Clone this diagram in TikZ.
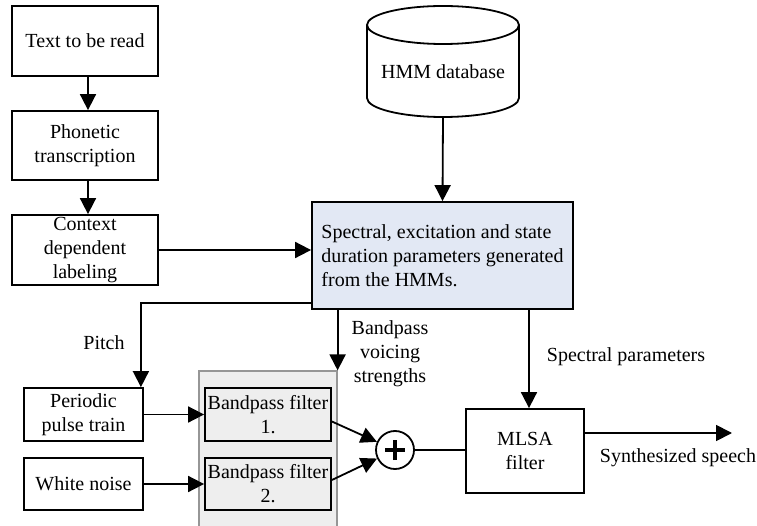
\documentclass[tikz,border=0pt]{standalone}
\usepackage{fontspec}
\setmainfont{Liberation Serif}
\usetikzlibrary{arrows.meta}
\definecolor{paramfill}{RGB}{226,232,244}
\definecolor{groupfill}{RGB}{238,238,238}
\definecolor{groupline}{RGB}{150,150,150}
\tikzset{
  blockbox/.style={draw, line width=1.8pt, align=center, inner sep=0pt,
    font=\fontsize{20pt}{24pt}\selectfont},
  lbl/.style={align=center, inner sep=0pt, font=\fontsize{20pt}{24pt}\selectfont},
  flow/.style={line width=1.8pt, -{Triangle[length=16pt,width=16pt]}},
  wire/.style={line width=1.8pt},
}
\begin{document}
\begin{tikzpicture}[x=1pt,y=-1pt]
\useasboundingbox (0,0) rectangle (757,526);
\clip (0,0) rectangle (757,526);

% grey group behind the two bandpass filters
\node[fill=groupfill, draw=groupline, line width=1.2pt, minimum width=138pt,
  minimum height=159pt, inner sep=0pt] (grp) at (268,450.5) {};

% text analysis chain
\node[blockbox, minimum width=146pt, minimum height=70pt] (txt) at (85,41) {Text to be read};
\node[blockbox, minimum width=146pt, minimum height=69pt] (phon) at (85,145.5) {Phonetic\\transcription};
\node[blockbox, minimum width=146pt, minimum height=70pt] (ctx) at (85,250) {Context\\dependent\\labeling};

% HMM database drawn as a cylinder around a named node
\node[lbl, minimum width=152pt, minimum height=111pt] (db) at (443,61.5) {};
\draw[line width=1.8pt] (367,25) -- (367,98)
  arc[start angle=180, end angle=360, x radius=76pt, y radius=19pt] -- (519,25);
\draw[line width=1.8pt] (443,25) ellipse[x radius=76pt, y radius=19pt];
\node[lbl] at (443,72) {HMM database};

% parameter generation
\node[blockbox, fill=paramfill, minimum width=261pt, minimum height=107pt,
  align=left] (gen) at (442.5,255.5)
  {Spectral, excitation and state\\duration parameters generated\\from the HMMs.};

% excitation sources
\node[blockbox, minimum width=119pt, minimum height=53pt] (pulse) at (83.5,414.5) {Periodic\\pulse train};
\node[blockbox, minimum width=119pt, minimum height=52pt] (noise) at (83.5,484) {White noise};
\node[blockbox, minimum width=126pt, minimum height=53pt] (bp1) at (268,414.5) {Bandpass filter\\1.};
\node[blockbox, minimum width=126pt, minimum height=52pt] (bp2) at (268,484) {Bandpass filter\\2.};

% summation and synthesis filter
\node[draw, circle, line width=1.8pt, minimum size=38pt, inner sep=0pt] (sum) at (395,450) {};
\draw[line width=3.2pt] ([xshift=-10pt]sum.center) -- ([xshift=10pt]sum.center)
  ([yshift=-10pt]sum.center) -- ([yshift=10pt]sum.center);
\node[blockbox, minimum width=118pt, minimum height=84pt] (mlsa) at (525,451) {MLSA\\filter};
\coordinate (out) at (732,433);

% connectors
\draw[flow] ([xshift=3pt]txt.south) -- ([xshift=3pt]phon.north);
\draw[flow] ([xshift=3pt]phon.south) -- ([xshift=3pt]ctx.north);
\draw[flow] (ctx.east) -- (ctx.east -| gen.west);
\draw[flow] (db.south) -- (gen.north);
\draw[flow] ([yshift=7pt]gen.south west) -| ([xshift=-3pt]pulse.north east);
\draw[flow] (grp.north east |- gen.south) -- (grp.north east);
\draw[flow] ([xshift=4pt]gen.south -| mlsa.north) -- ([xshift=4pt]mlsa.north);
\draw[flow] (pulse.east) -- (bp1.west);
\draw[flow] (noise.east) -- (bp2.west);
\draw[flow] ([yshift=-7pt]bp1.east) -- (sum);
\draw[flow] ([yshift=4pt]bp2.east) -- (sum);
\draw[wire] (sum.east) -- (sum.east -| mlsa.west);
\draw[flow] ([yshift=18pt]mlsa.east) -- (out);

% signal labels
\node[lbl] (lpitch) at (104,343) {Pitch};
\node[lbl] (lbpv) at (390,354) {Bandpass\\voicing\\strengths};
\node[lbl] (lspec) at (626,357) {Spectral parameters};
\node[lbl] (lout) at (678,458) {Synthesized speech};
\end{tikzpicture}
\end{document}
